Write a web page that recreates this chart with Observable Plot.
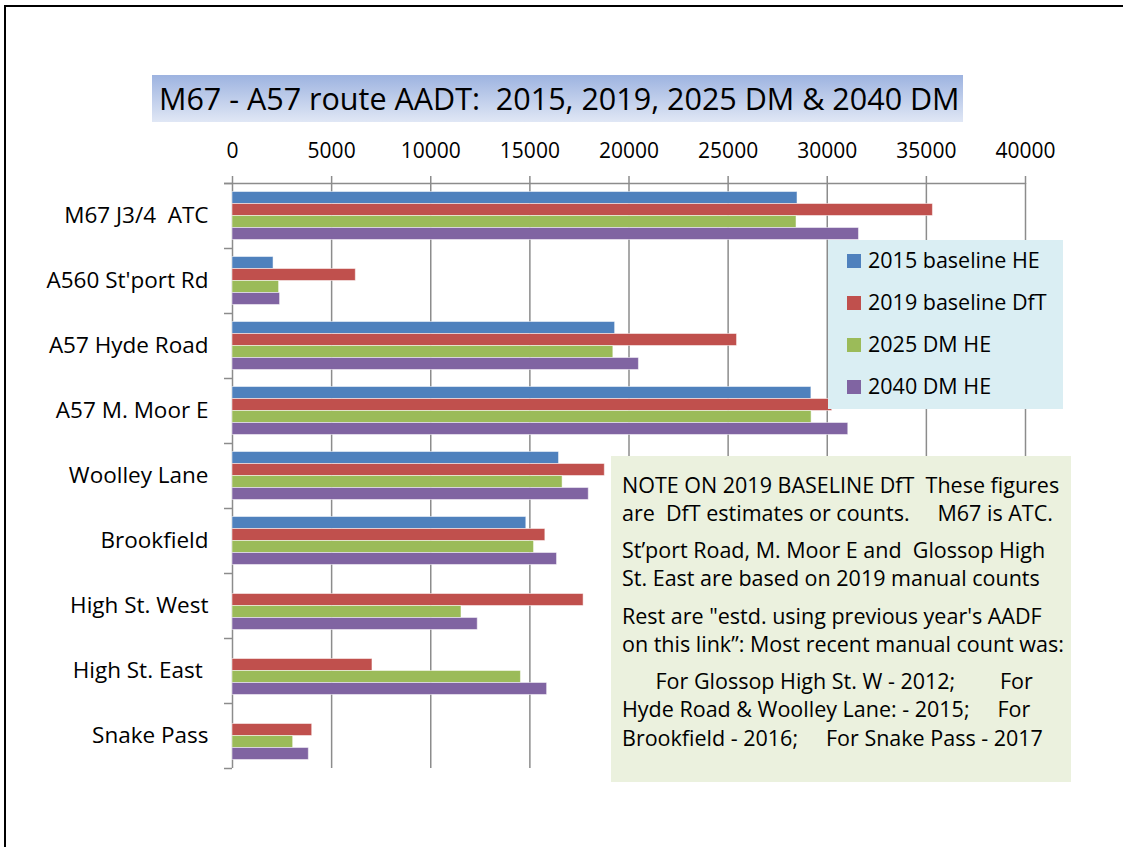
<!DOCTYPE html>
<html><head><meta charset="utf-8">
<script src="https://cdn.jsdelivr.net/npm/d3@7"></script>
<script src="https://cdn.jsdelivr.net/npm/@observablehq/plot@0.6"></script>
<style>
html,body{margin:0;padding:0;width:1123px;height:847px;overflow:hidden;background:#fff;font-family:"Open Sans",sans-serif;color:#000;}
#frame{position:absolute;left:4px;top:5px;width:1119px;height:842px;border-top:2px solid #000;border-left:2px solid #000;border-right:none;border-bottom:none;box-sizing:border-box;}
#title{position:absolute;left:152px;top:75px;width:811px;height:47px;background:linear-gradient(#9DB3E0,#E0E7F5);font-size:30.5px;line-height:47px;padding-left:7px;box-sizing:border-box;white-space:pre;}
#chart{position:absolute;left:0;top:130px;width:1123px;height:650px;overflow:hidden;}
#chart svg text{white-space:pre;}
#legend{position:absolute;left:828px;top:240px;width:235px;height:169px;background:#DAEEF3;}
.item{position:absolute;left:19px;font-size:21.5px;line-height:26px;white-space:pre;}
.sw{display:inline-block;width:14px;height:14px;margin-right:7px;vertical-align:0px;}
#note{position:absolute;left:611px;top:456px;width:460px;height:326px;background:#EBF1DE;font-size:21.5px;}
.nl{position:absolute;left:11px;white-space:pre;line-height:26px;}
</style>
</head><body>
<div id="frame"></div>
<div id="title"></div>
<div id="chart"></div>
<div id="legend"></div>
<div id="note"></div>
<script>
const titleText = "M67 - A57 route AADT:  2015, 2019, 2025 DM & 2040 DM";
const categories = ["M67 J3/4  ATC", "A560 St'port Rd", "A57 Hyde Road", "A57 M. Moor E", "Woolley Lane", "Brookfield", "High St. West", "High St. East ", "Snake Pass"];
const series = ["2015 baseline HE", "2019 baseline DfT", "2025 DM HE", "2040 DM HE"];
const colors = ["#4F81BD", "#C0504D", "#9BBB59", "#8064A2"];
const v2015 = [28500, 2070, 19300, 29200, 16470, 14820, null, null, null];
const v2019 = [35330, 6220, 25450, 30250, 18780, 15780, 17710, 7060, 4020];
const v2025 = [28450, 2350, 19210, 29210, 16650, 15210, 11550, 14550, 3060];
const v2040 = [31600, 2400, 20500, 31060, 17970, 16370, 12370, 15870, 3850];
const xTicks = [0, 5000, 10000, 15000, 20000, 25000, 30000, 35000, 40000];
const noteLines = [
  "NOTE ON 2019 BASELINE DfT  These figures",
  "are  DfT estimates or counts.     M67 is ATC.",
  "St\u2019port Road, M. Moor E and  Glossop High",
  "St. East are based on 2019 manual counts",
  "Rest are \"estd. using previous year's AADF",
  "on this link\u201d: Most recent manual count was:",
  "      For Glossop High St. W - 2012;        For",
  "Hyde Road & Woolley Lane: - 2015;     For",
  "Brookfield - 2016;     For Snake Pass - 2017"
];
const noteTops = [16, 44, 81, 109, 147, 175, 212, 240, 269];

const valuesBySeries = [v2015, v2019, v2025, v2040];
const rows = [];
categories.forEach((c, i) => series.forEach((s, j) => {
  const v = valuesBySeries[j][i];
  if (v != null) rows.push({cat: c, series: s, value: v});
}));

document.getElementById("title").textContent = titleText;

const grid = "#8C8C8C";
const svgTop = 130, plotTop = 183, plotBottom = 768;
const step = (plotBottom - plotTop) / categories.length;
const font = "'Open Sans', sans-serif";

const chart = Plot.plot({
  width: 1123,
  height: plotBottom + 12 - svgTop,
  marginTop: plotTop - svgTop,
  marginBottom: 12,
  marginLeft: 232,
  marginRight: 98,
  style: {fontFamily: font, fontSize: "21px", color: "#000", background: "transparent"},
  x: {domain: [0, 40000]},
  y: {domain: series, axis: null, paddingInner: 0, paddingOuter: 0.71, round: false},
  fy: {domain: categories, padding: 0, round: false},
  color: {domain: series, range: colors},
  marks: [
    Plot.ruleX(xTicks, {stroke: grid, strokeWidth: 1.5}),
    Plot.barX(rows, {fy: "cat", y: "series", x: "value", fill: "series", stroke: "#fff", strokeOpacity: 0.5, strokeWidth: 1}),
    Plot.ruleY(categories, {fy: d => d, y: null, x1: 0, x2: 0, insetLeft: -8, dy: -step / 2, stroke: grid, strokeWidth: 1.5}),
    Plot.ruleY([categories[0]], {fy: d => d, y: null, x1: 0, x2: 40000, insetLeft: -8, dy: -step / 2, stroke: grid, strokeWidth: 1.5}),
    Plot.ruleY([categories[categories.length - 1]], {fy: d => d, y: null, x1: 0, x2: 0, insetLeft: -8, dy: step / 2, stroke: grid, strokeWidth: 1.5}),
    Plot.axisX(xTicks, {anchor: "top", tickSize: 8, tickPadding: 18, stroke: grid, strokeWidth: 1.5, fill: "#000", fontSize: 21, tickFormat: d => String(d), label: null}),
    Plot.axisFy({anchor: "left", tickSize: 0, tickPadding: 24, fill: "#000", fontSize: 22.5, label: null})
  ]
});
document.getElementById("chart").appendChild(chart);

const legend = document.getElementById("legend");
series.forEach((s, j) => {
  const d = document.createElement("div");
  d.className = "item";
  d.style.top = (7 + 42 * j) + "px";
  const sw = document.createElement("span");
  sw.className = "sw";
  sw.style.background = colors[j];
  d.appendChild(sw);
  d.appendChild(document.createTextNode(s));
  legend.appendChild(d);
});

const note = document.getElementById("note");
noteLines.forEach((t, k) => {
  const d = document.createElement("div");
  d.className = "nl";
  d.style.top = noteTops[k] + "px";
  d.textContent = t;
  note.appendChild(d);
});
</script>
</body></html>
